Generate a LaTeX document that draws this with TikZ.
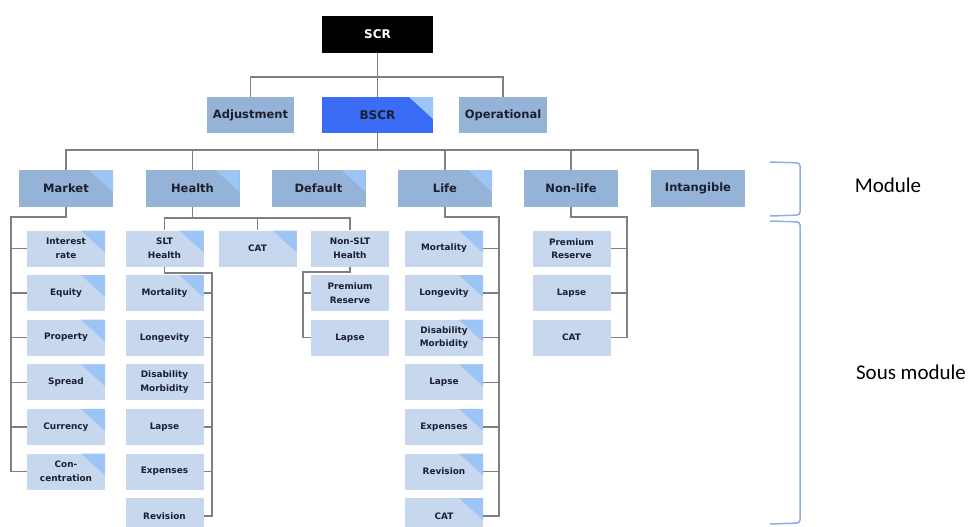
\documentclass[tikz,border=0pt]{standalone}
\usepackage{fontspec}
\setmainfont{DejaVu Sans}
\newfontfamily\notefont{Carlito}
\definecolor{topfill}{HTML}{95B3D7}
\definecolor{subfill}{HTML}{C6D7EE}
\definecolor{tricol}{HTML}{9CC5F5}
\definecolor{bscrfill}{HTML}{3B6CF6}
\definecolor{linkgray}{HTML}{7F7F7F}
\definecolor{bracecol}{HTML}{8DB0E2}
\definecolor{txt}{HTML}{1B1F2E}
\tikzset{
  box/.style={draw=none, inner sep=0pt, align=center, text=txt},
  topbox/.style={box, fill=topfill, minimum width=88pt, minimum height=36pt,
    font=\bfseries\fontsize{11.5}{13}\selectfont},
  modbox/.style={topbox, minimum width=94pt, minimum height=37pt},
  subbox/.style={box, fill=subfill, minimum width=78pt, minimum height=36pt,
    font=\bfseries\fontsize{8.9}{13.5}\selectfont},
  tri/.style={path picture={\fill[tricol]
      ([xshift=-24pt]path picture bounding box.north east) --
      (path picture bounding box.north east) --
      ([yshift=-22pt]path picture bounding box.north east) -- cycle;}},
  link/.style={draw=linkgray, line width=1.4pt},
  bracket/.style={draw=bracecol, line width=1.5pt, rounded corners=3pt},
  note/.style={font=\notefont\fontsize{21}{24}\selectfont, text=black, inner sep=0pt}
}
\begin{document}
\begin{tikzpicture}[x=1pt, y=-1pt]
\useasboundingbox (0,0) rectangle (980,527);
\fill[white] (0,0) rectangle (980,527);
\clip (0,0) rectangle (980,527);

% top levels
\node[box, fill=black, text=white, minimum width=111pt, minimum height=37pt,
  font=\bfseries\fontsize{12}{14}\selectfont] (SCR) at (377.5,34.5) {SCR};
\node[topbox, minimum width=87pt] (ADJ) at (250.5,115) {Adjustment};
\node[topbox, fill=bscrfill, minimum width=111pt, tri,
  font=\bfseries\fontsize{12}{14}\selectfont] (BSCR) at (377.5,115) {BSCR};
\node[topbox] (OPR) at (503,115) {Operational};

% modules
\node[modbox, tri] (MKT) at (66,188.5) {Market};
\node[modbox, tri] (HLT) at (192.5,188.5) {Health};
\node[modbox, tri] (DEF) at (318.5,188.5) {Default};
\node[modbox, tri] (LIF) at (445,188.5) {Life};
\node[modbox] (NLF) at (571,188.5) {Non-life};
\node[modbox] (INT) at (698,188.5) {Intangible};

% market sub-modules
\foreach \i/\y/\t in {1/248.5/{Interest\\rate}, 2/293.1/Equity, 3/337.7/Property,
    4/382.3/Spread, 5/426.9/Currency, 6/471.5/{Con-\\centration}}
  \node[subbox, tri] (mk\i) at (66,\y) {\t};

% health sub-modules
\node[subbox, tri] (SLT) at (164.5,248.5) {SLT\\Health};
\node[subbox, tri] (HCAT) at (257.5,248.5) {CAT};
\node[subbox] (NSLT) at (350,248.5) {Non-SLT\\Health};
\node[subbox, tri] (sl1) at (164.5,293.1) {Mortality};
\foreach \i/\y/\t in {2/337.7/Longevity, 3/382.3/{Disability\\Morbidity},
    4/426.9/Lapse, 5/471.5/Expenses, 6/516.1/Revision}
  \node[subbox] (sl\i) at (164.5,\y) {\t};
\node[subbox] (ns1) at (350,293.1) {Premium\\Reserve};
\node[subbox] (ns2) at (350,337.7) {Lapse};

% life sub-modules
\foreach \i/\y/\t in {1/248.5/Mortality, 2/293.1/Longevity, 3/337.7/{Disability\\Morbidity},
    4/382.3/Lapse, 5/426.9/Expenses, 6/471.5/Revision, 7/516.1/CAT}
  \node[subbox, tri] (lf\i) at (444,\y) {\t};

% non-life sub-modules
\node[subbox] (nl1) at (571.5,248.5) {Premium\\Reserve};
\node[subbox] (nl2) at (571.5,293.1) {Lapse};
\node[subbox] (nl3) at (571.5,337.7) {CAT};

% bus points
\coordinate (busA) at (377.5,77);
\coordinate (busB) at (377.5,150);
\coordinate (mkL) at (11,217);
\coordinate (hB) at (192.5,218);
\coordinate (slR) at (212,273);
\coordinate (nsL) at (303,272);
\coordinate (lfR) at (499,217);
\coordinate (nlR) at (627,217);

% connectors
\draw[link] (SCR) -- (busA);
\draw[link] (busA) -| (ADJ);
\draw[link] (busA) -| (OPR);
\draw[link] (busA) -- (BSCR);
\draw[link] (BSCR) -- (busB);
\foreach \m in {MKT,HLT,DEF,LIF,NLF,INT}
  \draw[link] (busB) -| (\m);

\draw[link] (MKT) |- (mkL) |- (mk6.west);
\foreach \i in {1,...,5} \draw[link] (mkL |- mk\i.west) -- (mk\i.west);

\draw[link] (HLT) -- (hB);
\draw[link] (hB) -| (SLT);
\draw[link] (hB) -| (HCAT);
\draw[link] (hB) -| (NSLT);

\draw[link] (SLT) |- (slR) |- (sl6.east);
\foreach \i in {1,...,5} \draw[link] (slR |- sl\i.east) -- (sl\i.east);

\draw[link] (NSLT) |- (nsL) |- (ns2.west);
\draw[link] (nsL |- ns1.west) -- (ns1.west);

\draw[link] (LIF) |- (lfR) |- (lf7.east);
\foreach \i in {1,...,6} \draw[link] (lfR |- lf\i.east) -- (lf\i.east);

\draw[link] (NLF) |- (nlR) |- (nl3.east);
\foreach \i in {1,2} \draw[link] (nlR |- nl\i.east) -- (nl\i.east);

% level brackets and their labels
\coordinate (bm1) at (770,162);
\coordinate (bm2) at (800,163);
\coordinate (bm3) at (800,215);
\coordinate (bm4) at (770,216);
\draw[bracket] (bm1) -- (bm2) -- (bm3) -- (bm4);
\coordinate (bs1) at (770,221);
\coordinate (bs2) at (800,222);
\coordinate (bs3) at (800,523);
\coordinate (bs4) at (770,524);
\draw[bracket] (bs1) -- (bs2) -- (bs3) -- (bs4);
\node[note] (MODL) at (888,185) {Module};
\node[note] (SUBL) at (911,372) {Sous module};
\end{tikzpicture}
\end{document}
